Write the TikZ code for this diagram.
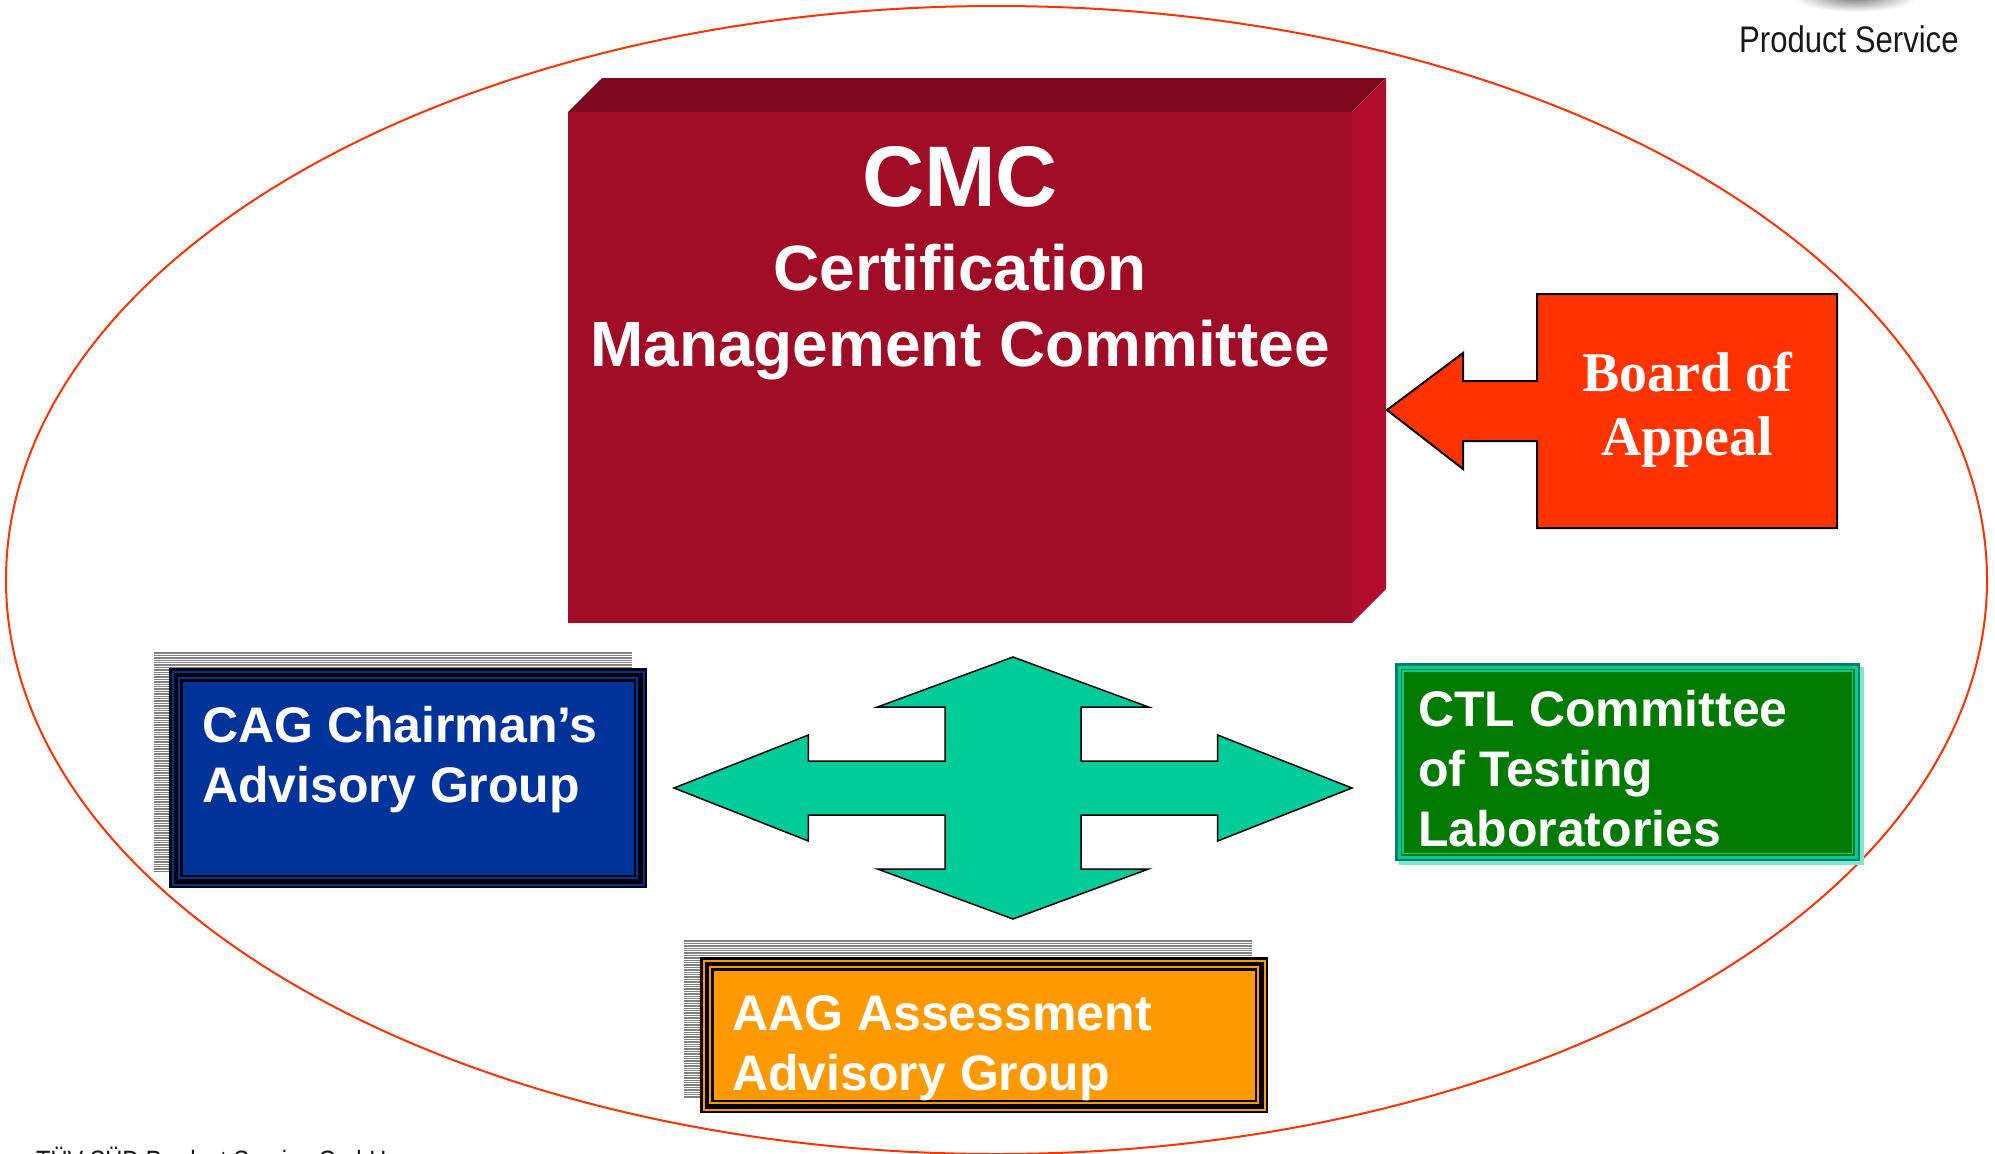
\documentclass[tikz,border=0pt]{standalone}
\usepackage{fontspec}
\setmainfont{Liberation Sans}
\newfontfamily\boaserif{Liberation Serif}
\newfontfamily\narrowsf[FakeStretch=0.84]{Liberation Sans}
\definecolor{ellcol}{HTML}{FF3300}
\definecolor{cmcfront}{HTML}{A00C26}
\definecolor{cmctop}{HTML}{7C071F}
\definecolor{cmcside}{HTML}{B20D2D}
\definecolor{boared}{HTML}{FF3300}
\definecolor{crossgreen}{HTML}{00CC99}
\definecolor{cagblue}{HTML}{003399}
\definecolor{aagorange}{HTML}{FF9900}
\definecolor{ctlgreen}{HTML}{007A00}
\definecolor{ctlteal}{HTML}{00CC99}
\definecolor{ctldark}{HTML}{00806A}
\definecolor{ctlshadow}{HTML}{7FE6CC}
\definecolor{stripegray}{HTML}{808080}
\newcommand{\mybandbox}[5]{%
  \fill[black] (#1,#2) rectangle (#3,#4);
  \fill[#5] ({#1+2.5},{#2+2.5}) rectangle ({#3-2.5},{#4-2.5});
  \fill[black] ({#1+4.5},{#2+4.5}) rectangle ({#3-4.5},{#4-4.5});
  \fill[#5] ({#1+9},{#2+9}) rectangle ({#3-9},{#4-9});
  \fill[black] ({#1+11},{#2+11}) rectangle ({#3-11},{#4-11});
  \fill[#5] ({#1+13.5},{#2+13.5}) rectangle ({#3-13.5},{#4-13.5});
}
\tikzset{
  boxtext/.style={anchor=base west, inner sep=0, text=white, font=\fontsize{50}{60}\selectfont\bfseries},
}
\begin{document}
\begin{tikzpicture}[x=1pt,y=-1pt]
\useasboundingbox (0,0) rectangle (1995,1154);
\clip (0,0) rectangle (1995,1154);
\fill[white] (0,0) rectangle (1995,1154);

% logo shadow (top right)
\shade[inner color=black!55, outer color=white] (1855,-4) ellipse [x radius=62, y radius=16];

% outer ellipse
\draw[ellcol, line width=2] (996.5,580) ellipse [x radius=990.5, y radius=574];

% CMC block
\fill[cmctop] (568,112) -- (602,78) -- (1386,78) -- (1352,112) -- cycle;
\fill[cmcside] (1352,112) -- (1386,78) -- (1386,589) -- (1352,623) -- cycle;
\fill[cmcfront] (568,112) rectangle (1352,623);
\node[name=cmc, anchor=base, inner sep=0, text=white, font=\fontsize{64}{76}\selectfont\bfseries] at (960,206)
  {\begin{tabular}[t]{@{}c@{}}{\fontsize{86}{86}\selectfont CMC}\\[8pt] Certification\\ Management Committee\end{tabular}};

% Board of Appeal
\draw[fill=boared, line width=2, line join=miter] (1537,294) -- (1837,294) -- (1837,528) -- (1537,528) -- (1537,441) -- (1463,441) -- (1463,469) -- (1387,410) -- (1463,353) -- (1463,381) -- (1537,381) -- cycle;
\node[name=boa, anchor=base, inner sep=0, text=white, font=\boaserif\fontsize{56}{64}\selectfont\bfseries] at (1687,391)
  {\begin{tabular}[t]{@{}c@{}}Board of\\ Appeal\end{tabular}};

% four-way arrow
\draw[fill=crossgreen, line width=1.5, line join=miter]
  (1013,657) -- (1148.5,707) -- (1081,707) -- (1081,761) -- (1217.6,761) -- (1217.6,735) -- (1352,788)
  -- (1217.6,841) -- (1217.6,815) -- (1081,815) -- (1081,869) -- (1148.5,869) -- (1013,919)
  -- (877.5,869) -- (945,869) -- (945,815) -- (808.4,815) -- (808.4,841) -- (674,788)
  -- (808.4,735) -- (808.4,761) -- (945,761) -- (945,707) -- (877.5,707) -- cycle;

% CAG
\foreach \y in {653,655.4,...,873} {\draw[stripegray, line width=1.4] (154,\y) -- (632,\y);}
\mybandbox{169}{668}{647}{888}{cagblue}
\node[name=cag, boxtext] at (202,742)
  {\begin{tabular}[t]{@{}l@{}}CAG Chairman’s\\ Advisory Group\end{tabular}};

% AAG
\foreach \y in {941,943.4,...,1097} {\draw[stripegray, line width=1.4] (684,\y) -- (1252,\y);}
\mybandbox{700}{957}{1268}{1113}{aagorange}
\node[name=aag, boxtext] at (732,1030)
  {\begin{tabular}[t]{@{}l@{}}AAG Assessment\\ Advisory Group\end{tabular}};

% CTL
\fill[ctlshadow] (1399,667) rectangle (1864,865);
\fill[ctldark] (1395,663) rectangle (1860,861);
\fill[ctlteal] (1397.5,665.5) rectangle (1857.5,858.5);
\fill[ctlgreen] (1400.5,668.5) rectangle (1854.5,855.5);
\fill[ctlteal] (1402,670) rectangle (1853,854);
\fill[ctlgreen] (1403.5,671.5) rectangle (1851.5,852.5);
\node[name=ctl, boxtext] at (1418,726)
  {\begin{tabular}[t]{@{}l@{}}CTL Committee\\ of Testing\\ Laboratories\end{tabular}};

% header / footer
\node[name=ps, anchor=base west, inner sep=0, text=black!90, font=\narrowsf\fontsize{37}{40}\selectfont] at (1739,52) {Product Service};
\node[name=footer, anchor=base west, inner sep=0, text=black!90, font=\narrowsf\fontsize{28}{30}\selectfont] at (36,1170) {TÜV SÜD Product Service GmbH};
\end{tikzpicture}
\end{document}
